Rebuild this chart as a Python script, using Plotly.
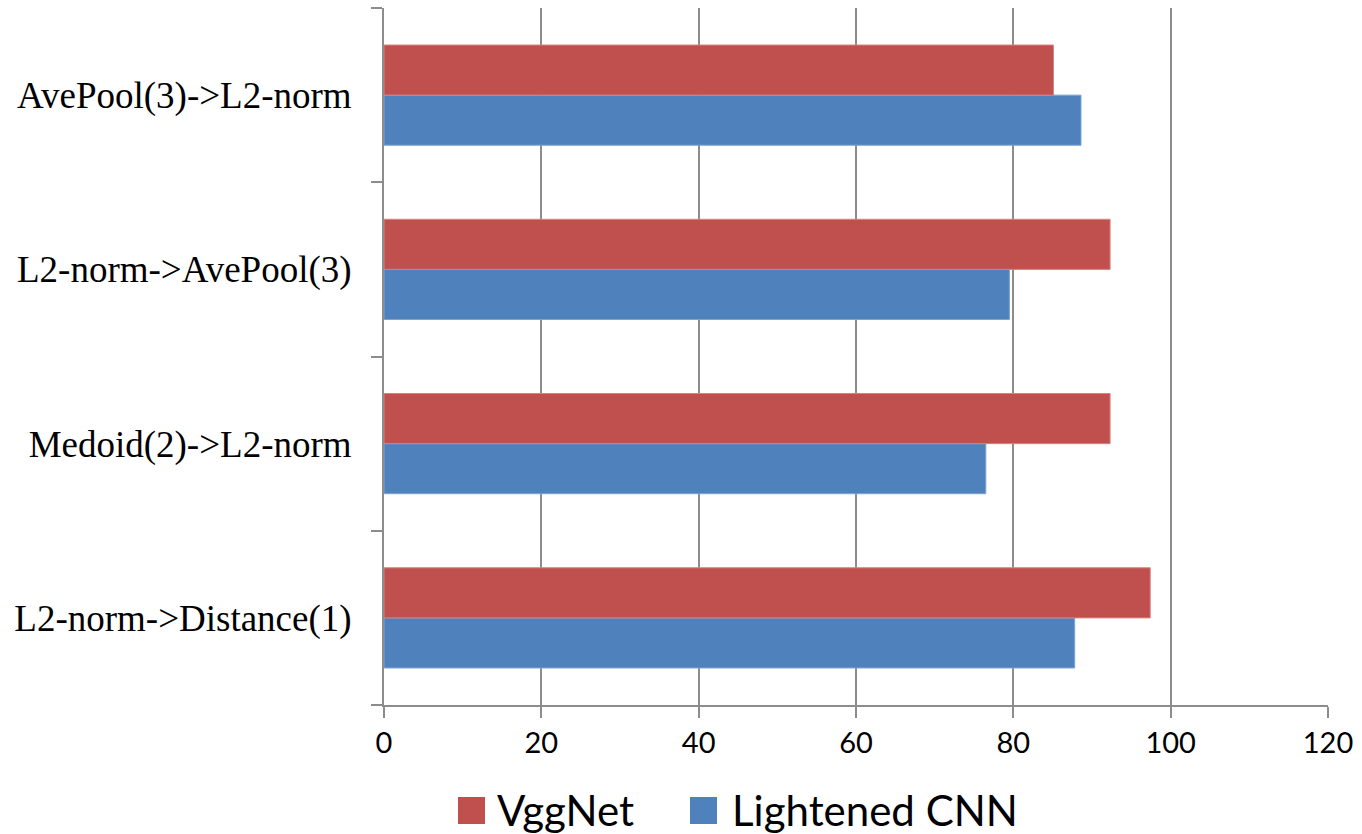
import plotly.graph_objects as go

# Pipelines, listed bottom to top as they appear on the axis
categories = [
    "L2-norm->Distance(1)",
    "Medoid(2)->L2-norm",
    "L2-norm->AvePool(3)",
    "AvePool(3)->L2-norm",
]
vggnet = [97.4, 92.3, 92.3, 85.1]
lightened_cnn = [87.8, 76.5, 79.5, 88.6]
x_ticks = [0, 20, 40, 60, 80, 100, 120]

RED = "#C0504D"
BLUE = "#4F81BD"
GRID = "#8C8C8C"

# plot area in pixels (used for the hand-drawn legend below the axis)
PLOT_L, PLOT_W, PLOT_B, PLOT_H = 384, 944, 705, 697

fig = go.Figure()
# Lightened CNN first so it sits below VggNet in each group
fig.add_trace(go.Bar(
    y=categories, x=lightened_cnn, orientation="h", name="Lightened CNN",
    marker=dict(color=BLUE, line=dict(color="#7FA3D1", width=1)),
))
fig.add_trace(go.Bar(
    y=categories, x=vggnet, orientation="h", name="VggNet",
    marker=dict(color=RED, line=dict(color="#D98280", width=1)),
))

fig.update_layout(
    width=1362, height=834,
    margin=dict(l=384, r=34, t=8, b=129),
    paper_bgcolor="white", plot_bgcolor="white",
    barmode="group", bargap=0.425, bargroupgap=0,
    showlegend=False,
    xaxis=dict(
        range=[0, 120], tickvals=x_ticks, ticktext=[str(v) for v in x_ticks],
        showgrid=True, gridcolor=GRID, gridwidth=2,
        showline=True, linecolor=GRID, linewidth=2,
        ticks="outside", ticklen=11, tickcolor=GRID, tickwidth=2,
        tickfont=dict(family="Lato", size=29, color="black"),
        zeroline=False, fixedrange=True,
    ),
    yaxis=dict(
        categoryorder="array", categoryarray=categories,
        showgrid=False, showline=True, linecolor=GRID, linewidth=2,
        ticks="outside", ticklen=11, tickcolor=GRID, tickwidth=2,
        tickson="boundaries", ticklabelstandoff=23,
        tickfont=dict(family="Liberation Serif", size=37, color="black"),
        fixedrange=True,
    ),
)


def px_x(px):
    return (px - PLOT_L) / PLOT_W


def px_y(py):
    return (PLOT_B - py) / PLOT_H


# Legend: coloured squares with labels
legend_items = [("VggNet", RED, 458, 497), ("Lightened CNN", BLUE, 690, 732)]
for label, color, sq_x, text_x in legend_items:
    fig.add_shape(type="rect", xref="paper", yref="paper",
                  x0=px_x(sq_x), x1=px_x(sq_x + 27),
                  y0=px_y(824), y1=px_y(797),
                  fillcolor=color, line=dict(width=0))
    fig.add_annotation(text=label, xref="paper", yref="paper",
                       x=px_x(text_x - 2), y=px_y(810),
                       xanchor="left", yanchor="middle", showarrow=False,
                       font=dict(family="Lato", size=42, color="black"))

fig.write_html("out.html")
